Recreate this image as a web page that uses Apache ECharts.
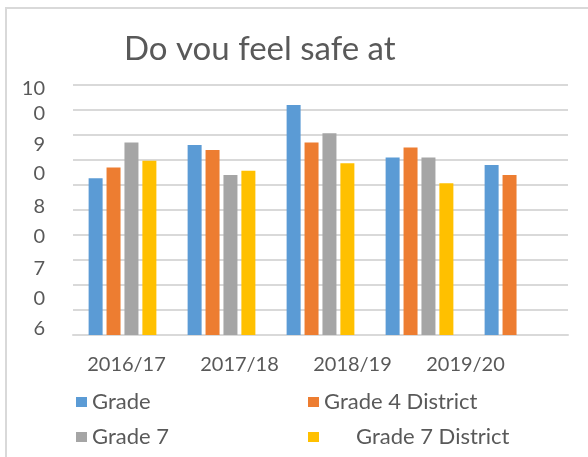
<!DOCTYPE html>
<html>
<head>
<meta charset="utf-8">
<script src="https://cdn.jsdelivr.net/npm/echarts@6/dist/echarts.min.js"></script>
<style>
  html, body { margin: 0; padding: 0; background: #fff; }
  #chart { width: 588px; height: 457px; }
</style>
</head>
<body>
<div id="chart"></div>
<script>
  // data
  var categories = ['2016/17', '2017/18', '2018/19', '2019/20', ''];
  var labelCategories = ['2016/17', '2017/18', '2018/19', '2019/20'];
  var grade = [85.1, 90.4, 96.8, 88.4, 87.2];
  var grade4District = [86.8, 89.6, 90.8, 90.0, 85.6];
  var grade7 = [90.8, 85.6, 92.3, 88.4, null];
  var grade7District = [87.9, 86.3, 87.5, 84.3, null];
  // the y labels are broken in the original: '100' wrapped onto two lines etc.
  var yTickText = ['10', '0', '9', '0', '8', '0', '7', '0', '6'];
  var yTickAt = [99.4, 95.5, 90.4, 85.8, 80.5, 75.8, 70.6, 65.9, 61.0];

  var textColor = '#595959';
  var lineColor = '#d9d9d9';
  var font = 'Lato';

  var chart = echarts.init(document.getElementById('chart'));

  function barSeries(name, data, color) {
    return {
      name: name,
      type: 'bar',
      data: data,
      barWidth: 14,
      barGap: '28%',
      itemStyle: {color: color},
      animation: false
    };
  }

  function legendAt(left, names) {
    return {
      data: names,
      orient: 'vertical',
      left: left,
      top: 391,
      padding: 0,
      icon: 'rect',
      itemWidth: 11,
      itemHeight: 10,
      itemGap: 13,
      formatter: function (name) {
        return name === 'Grade 7 District' ? '{p|}' + name : name;
      },
      textStyle: {
        color: textColor, fontSize: 22, fontFamily: font, lineHeight: 22,
        rich: {p: {width: 32}}
      }
    };
  }

  var option = {
    animation: false,
    textStyle: {fontFamily: font},
    grid: [
      {left: 73, right: 20, top: 85, bottom: 122},
      {left: 70, width: 452, top: 334, height: 1}
    ],
    xAxis: [
      {
        type: 'category',
        gridIndex: 0,
        data: categories,
        axisLine: {lineStyle: {color: lineColor, width: 2}},
        axisTick: {show: false},
        axisLabel: {show: false}
      },
      {
        type: 'category',
        gridIndex: 1,
        data: labelCategories,
        axisLine: {show: false},
        axisTick: {show: false},
        axisLabel: {color: textColor, fontSize: 20, fontFamily: font, margin: 20}
      }
    ],
    yAxis: [
      {
        type: 'value',
        gridIndex: 0,
        min: 60,
        max: 100,
        interval: 4,
        axisLine: {show: false},
        axisTick: {show: false},
        splitLine: {lineStyle: {color: lineColor, width: 2}},
        axisLabel: {
          color: textColor,
          fontSize: 20,
          fontFamily: font,
          margin: 28,
          customValues: yTickAt,
          formatter: function (value, index) {
            var i = yTickAt.indexOf(value);
            return i >= 0 ? yTickText[i] : '';
          }
        }
      },
      {type: 'value', gridIndex: 1, show: false}
    ],
    legend: [
      legendAt(76, ['Grade', 'Grade 7']),
      legendAt(308, ['Grade 4 District', 'Grade 7 District'])
    ],
    graphic: [
      {
        type: 'rect',
        silent: true,
        z: -10,
        shape: {x: 6, y: 8, width: 620, height: 480},
        style: {fill: 'none', stroke: lineColor, lineWidth: 2}
      },
      {
        type: 'text',
        silent: true,
        z: 10,
        style: {
          x: 124,
          y: 33,
          text: 'Do you feel safe at',
          fill: textColor,
          font: '33px Lato',
          verticalAlign: 'top'
        }
      },
      {
        // the title is cut off at its bottom in the original
        type: 'rect',
        silent: true,
        z: 11,
        shape: {x: 100, y: 60, width: 330, height: 22},
        style: {fill: '#fff'}
      }
    ],
    series: [
      barSeries('Grade', grade, '#5b9bd5'),
      barSeries('Grade 4 District', grade4District, '#ed7d31'),
      barSeries('Grade 7', grade7, '#a5a5a5'),
      barSeries('Grade 7 District', grade7District, '#ffc000')
    ]
  };

  chart.setOption(option);
</script>
</body>
</html>
